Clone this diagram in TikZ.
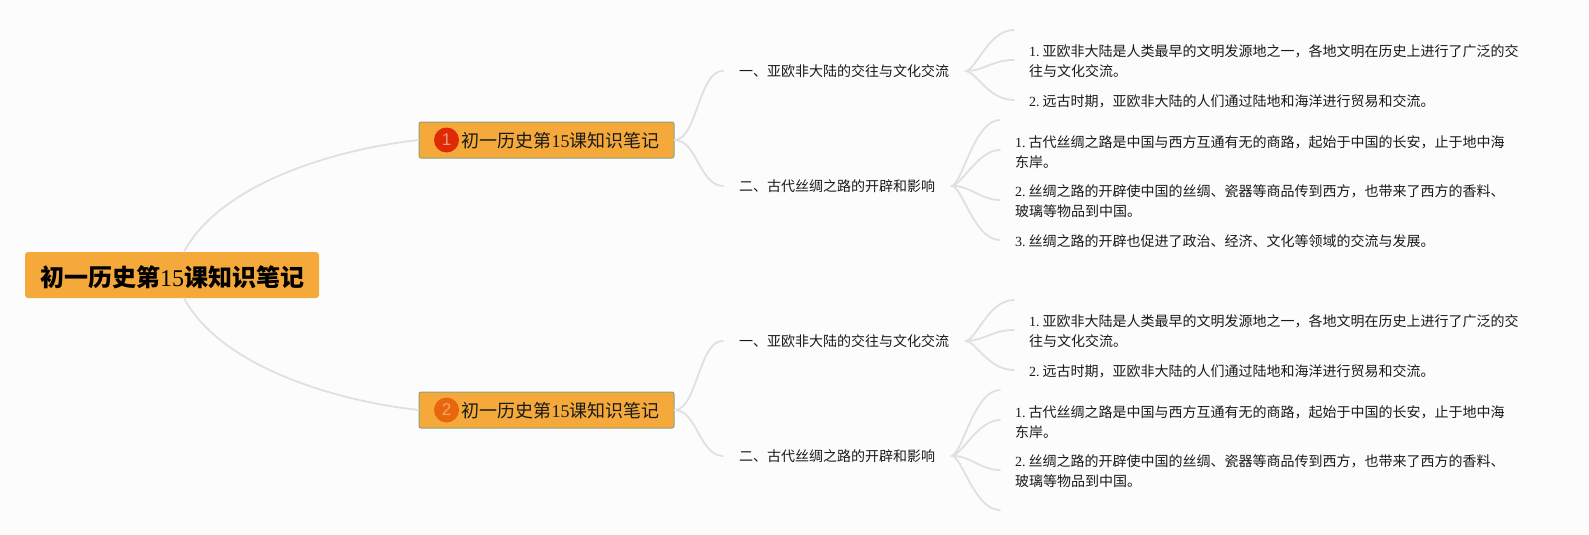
\documentclass[tikz,border=0pt]{standalone}
\usepackage{fontspec}
\setmainfont{Liberation Serif}
\setsansfont{Liberation Sans}
\newfontfamily\cjk{Noto Sans CJK SC}
\newcommand{\Z}[1]{{\cjk #1}}
\newcommand{\N}[1]{#1.\hspace{3pt}}
\definecolor{bgc}{HTML}{FCFCFC}
\definecolor{boxc}{HTML}{F5A93A}
\definecolor{edgec}{HTML}{E0E0E0}
\definecolor{subline}{HTML}{8FA37A}
\definecolor{inkc}{HTML}{1A1A1A}
\definecolor{badgea}{HTML}{DF2A06}
\definecolor{badgeb}{HTML}{E8660E}
\definecolor{numa}{HTML}{F2987E}
\definecolor{numb}{HTML}{F5A860}
\tikzset{
  rootbox/.style={fill=boxc,rounded corners=3pt,minimum width=294pt,minimum height=46pt,inner sep=0pt,font=\fontsize{24}{28}\selectfont\bfseries,text=black},
  subbox/.style={fill=boxc,draw=subline,line width=1pt,rounded corners=2pt,minimum width=255pt,minimum height=36pt,inner sep=0pt,font=\fontsize{18}{22}\selectfont,text=inkc},
  badge/.style={circle,minimum size=25pt,inner sep=0pt,font=\fontsize{17}{20}\selectfont\sffamily},
  headl/.style={anchor=west,inner xsep=16pt,inner ysep=0pt,font=\fontsize{14}{18}\selectfont,text=inkc},
  leaft/.style={anchor=west,inner sep=0pt,align=left,font=\fontsize{14}{20.5}\selectfont,text=inkc},
  link/.style={draw=edgec,line width=1.8pt,line cap=round},
}
\newcommand{\branchbody}[1]{%
  \node[headl] (h1) at (723,71) {\Z{一、亚欧非大陆的交往与文化交流}};
  \node[headl] (h2) at (723,186) {\Z{二、古代丝绸之路的开辟和影响}};
  \node[leaft] (p1) at (1029,61) {\N{1}\Z{亚欧非大陆是人类最早的文明发源地之一，各地文明在历史上进行了广泛的交}\\\Z{往与文化交流。}};
  \node[leaft] (p2) at (1029,101.5) {\N{2}\Z{远古时期，亚欧非大陆的人们通过陆地和海洋进行贸易和交流。}};
  \node[leaft] (q1) at (1015,152) {\N{1}\Z{古代丝绸之路是中国与西方互通有无的商路，起始于中国的长安，止于地中海}\\\Z{东岸。}};
  \node[leaft] (q2) at (1015,201) {\N{2}\Z{丝绸之路的开辟使中国的丝绸、瓷器等商品传到西方，也带来了西方的香料、}\\\Z{玻璃等物品到中国。}};
  #1
  \coordinate (e1) at (1014,30);
  \coordinate (e2) at (1014,60);
  \coordinate (e3) at (1014,100);
  \coordinate (f1) at (1000,120);
  \coordinate (f2) at (1000,150);
  \coordinate (f3) at (1000,200);
  \coordinate (f4) at (1000,240);
  \draw[link] (s.east) .. controls (697,140) and (699,70) .. (h1.west);
  \draw[link] (s.east) .. controls (697,140) and (699,185) .. (h2.west);
  \draw[link] (h1.east) .. controls (976,71) and (988,30) .. (e1);
  \draw[link] (h1.east) .. controls (984,71) and (992,60) .. (e2);
  \draw[link] (h1.east) .. controls (976,71) and (988,100) .. (e3);
  \draw[link] (h2.east) .. controls (962,185) and (974,120) .. (f1);
  \draw[link] (h2.east) .. controls (962,185) and (978,150) .. (f2);
  \draw[link] (h2.east) .. controls (970,185) and (980,200) .. (f3);
  \draw[link] (h2.east) .. controls (962,185) and (974,240) .. (f4);
}
\begin{document}
\begin{tikzpicture}[x=1pt,y=-1pt]
  \useasboundingbox (0,0) rectangle (1589,535);
  \fill[bgc] (0,0) rectangle (1589,535);
  \node[rootbox] (root) at (172,275) {\raisebox{-2pt}[\height][\depth]{\Z{初一历史第}{\mdseries 15}\Z{课知识笔记}}};
  \node[subbox] (top) at (546.5,140) {\hspace{28pt}\raisebox{-1pt}[\height][\depth]{\Z{初一历史第}15\Z{课知识笔记}}};
  \node[subbox] (bot) at (546.5,410) {\hspace{28pt}\raisebox{-1pt}[\height][\depth]{\Z{初一历史第}15\Z{课知识笔记}}};
  \node[badge,fill=badgea,text=numa] (b1) at (446.5,140) {1};
  \node[badge,fill=badgeb,text=numb] (b2) at (446.5,410) {2};
  \draw[link] ([xshift=12pt]root.north) .. controls (220,185) and (330,150) .. (top.west);
  \draw[link] ([xshift=12pt]root.south) .. controls (220,365) and (330,400) .. (bot.west);
  \begin{scope}[name prefix=a-]
    \coordinate (s) at (top.east);
    \branchbody{\node[leaft] (q3) at (1015,241) {\N{3}\Z{丝绸之路的开辟也促进了政治、经济、文化等领域的交流与发展。}};}
  \end{scope}
  \begin{scope}[shift={(0,270)},name prefix=c-]
    \coordinate (s) at (bot.east);
    \branchbody{}
  \end{scope}
\end{tikzpicture}
\end{document}
